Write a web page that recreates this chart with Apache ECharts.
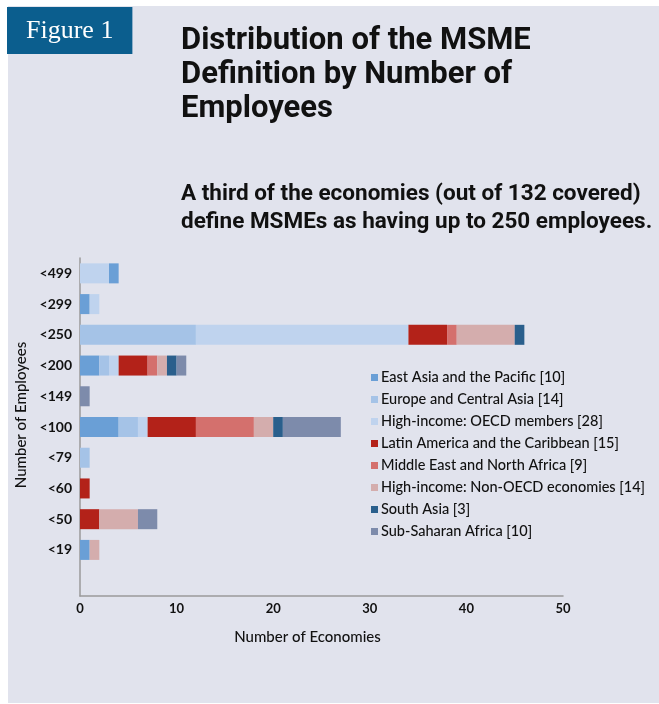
<!DOCTYPE html>
<html>
<head>
<meta charset="utf-8">
<script src="https://cdn.jsdelivr.net/npm/echarts@6/dist/echarts.min.js"></script>
<style>
  html, body { margin: 0; padding: 0; background: #ffffff; }
  #panel { position: absolute; left: 8px; top: 6px; width: 651px; height: 697px; background: #e1e3ed; }
  #main { position: absolute; left: 0; top: 0; width: 659px; height: 704px; }
</style>
</head>
<body>
<div id="panel"></div>
<div id="main"></div>
<script>
// rows from top to bottom, last one is the empty space above the x axis
var categories = ['<499', '<299', '<250', '<200', '<149', '<100', '<79', '<60', '<50', '<19', ''];

var regions = [
    'East Asia and the Pacific [10]',
    'Europe and Central Asia [14]',
    'High-income: OECD members [28]',
    'Latin America and the Caribbean [15]',
    'Middle East and North Africa [9]',
    'High-income: Non-OECD economies [14]',
    'South Asia [3]',
    'Sub-Saharan Africa [10]'
];
var colors = ['#6a9fd6', '#a5c3e7', '#bfd3ee', '#b32219', '#d4706d', '#d4adad', '#2a5f8c', '#7d8bab'];

// OECD count in the top row is drawn before East Asia in the original
var oecdTop  = [3, 0, 0, 0, 0, 0, 0, 0, 0, 0];
var eap      = [1, 1, 0, 2, 0, 4, 0, 0, 0, 1];
var eca      = [0, 0, 12, 1, 0, 2, 1, 0, 0, 0];
var oecd     = [0, 1, 22, 1, 0, 1, 0, 0, 0, 0];
var lac      = [0, 0, 4, 3, 0, 5, 0, 1, 2, 0];
var mena     = [0, 0, 1, 1, 0, 6, 0, 0, 0, 0];
var nonOecd  = [0, 0, 6, 1, 0, 2, 0, 0, 4, 1];
var southAsia= [0, 0, 1, 1, 0, 1, 0, 0, 0, 0];
var ssa      = [0, 0, 0, 1, 1, 6, 0, 0, 2, 0];

var xTicks = [0, 10, 20, 30, 40, 50];

var chart = echarts.init(document.getElementById('main'));

function barSeries(name, data, color){
    return {
        name: name,
        type: 'bar',
        stack: 'total',
        barWidth: 20,
        itemStyle: { color: color },
        emphasis: { disabled: true },
        data: data
    };
}

var seriesData = [eap, eca, oecd, lac, mena, nonOecd, southAsia, ssa];
var series = [barSeries(regions[2], oecdTop, colors[2])];
for (var i = 0; i < regions.length; i++) {
    series.push(barSeries(regions[i], seriesData[i], colors[i]));
}

chart.setOption({
    backgroundColor: 'transparent',
    animation: false,
    title: [{
        text: 'Figure 1',
        left: 7,
        top: 7,
        backgroundColor: '#0b5e8e',
        padding: [9, 19, 8, 19],
        textStyle: {
            color: '#ffffff',
            fontFamily: 'Liberation Serif',
            fontWeight: 'normal',
            fontSize: 26,
            lineHeight: 30
        }
    }, {
        text: 'Distribution of the MSME\nDefinition by Number of\nEmployees',
        left: 181,
        top: 24,
        padding: 0,
        textStyle: {
            color: '#111111',
            fontFamily: 'Roboto',
            fontWeight: 'bold',
            fontSize: 31,
            lineHeight: 34
        }
    }, {
        text: 'A third of the economies (out of 132 covered)\ndefine MSMEs as having up to 250 employees.',
        left: 181,
        top: 180,
        padding: 0,
        textStyle: {
            color: '#111111',
            fontFamily: 'Roboto',
            fontWeight: 'bold',
            fontSize: 22.5,
            lineHeight: 28
        }
    }],
    legend: {
        orient: 'vertical',
        left: 366,
        top: 365,
        itemWidth: 7,
        itemHeight: 7,
        itemGap: 7,
        icon: 'rect',
        data: regions,
        textStyle: {
            color: '#111111',
            fontFamily: 'Lato',
            fontWeight: 500,
            fontSize: 14.5,
            padding: [0, 0, 0, -2]
        }
    },
    grid: {
        left: 80,
        right: 96,
        top: 258,
        height: 338
    },
    xAxis: {
        type: 'value',
        min: xTicks[0],
        max: xTicks[xTicks.length - 1],
        interval: 10,
        name: 'Number of Economies',
        nameLocation: 'middle',
        nameGap: 34,
        nameTextStyle: {
            color: '#111111',
            fontFamily: 'Lato',
            fontWeight: 500,
            fontSize: 15,
            padding: [0, 28, 0, 0]
        },
        axisLine: { show: true, lineStyle: { color: '#9a9a9a', width: 1.5 } },
        axisTick: { show: false },
        splitLine: { show: false },
        axisLabel: {
            color: '#111111',
            fontFamily: 'Lato',
            fontWeight: 'bold',
            fontSize: 13,
            margin: 6
        }
    },
    yAxis: {
        type: 'category',
        inverse: true,
        data: categories,
        name: 'Number of Employees',
        nameLocation: 'middle',
        nameRotate: 90,
        nameGap: 42,
        nameTextStyle: {
            color: '#111111',
            fontFamily: 'Lato',
            fontWeight: 500,
            fontSize: 15,
            padding: [0, 0, 0, 24]
        },
        axisLine: { show: true, lineStyle: { color: '#9a9a9a', width: 1.5 } },
        axisTick: { show: false },
        axisLabel: {
            color: '#111111',
            fontFamily: 'Lato',
            fontWeight: 'bold',
            fontSize: 14,
            margin: 8
        }
    },
    series: series
});
</script>
</body>
</html>
